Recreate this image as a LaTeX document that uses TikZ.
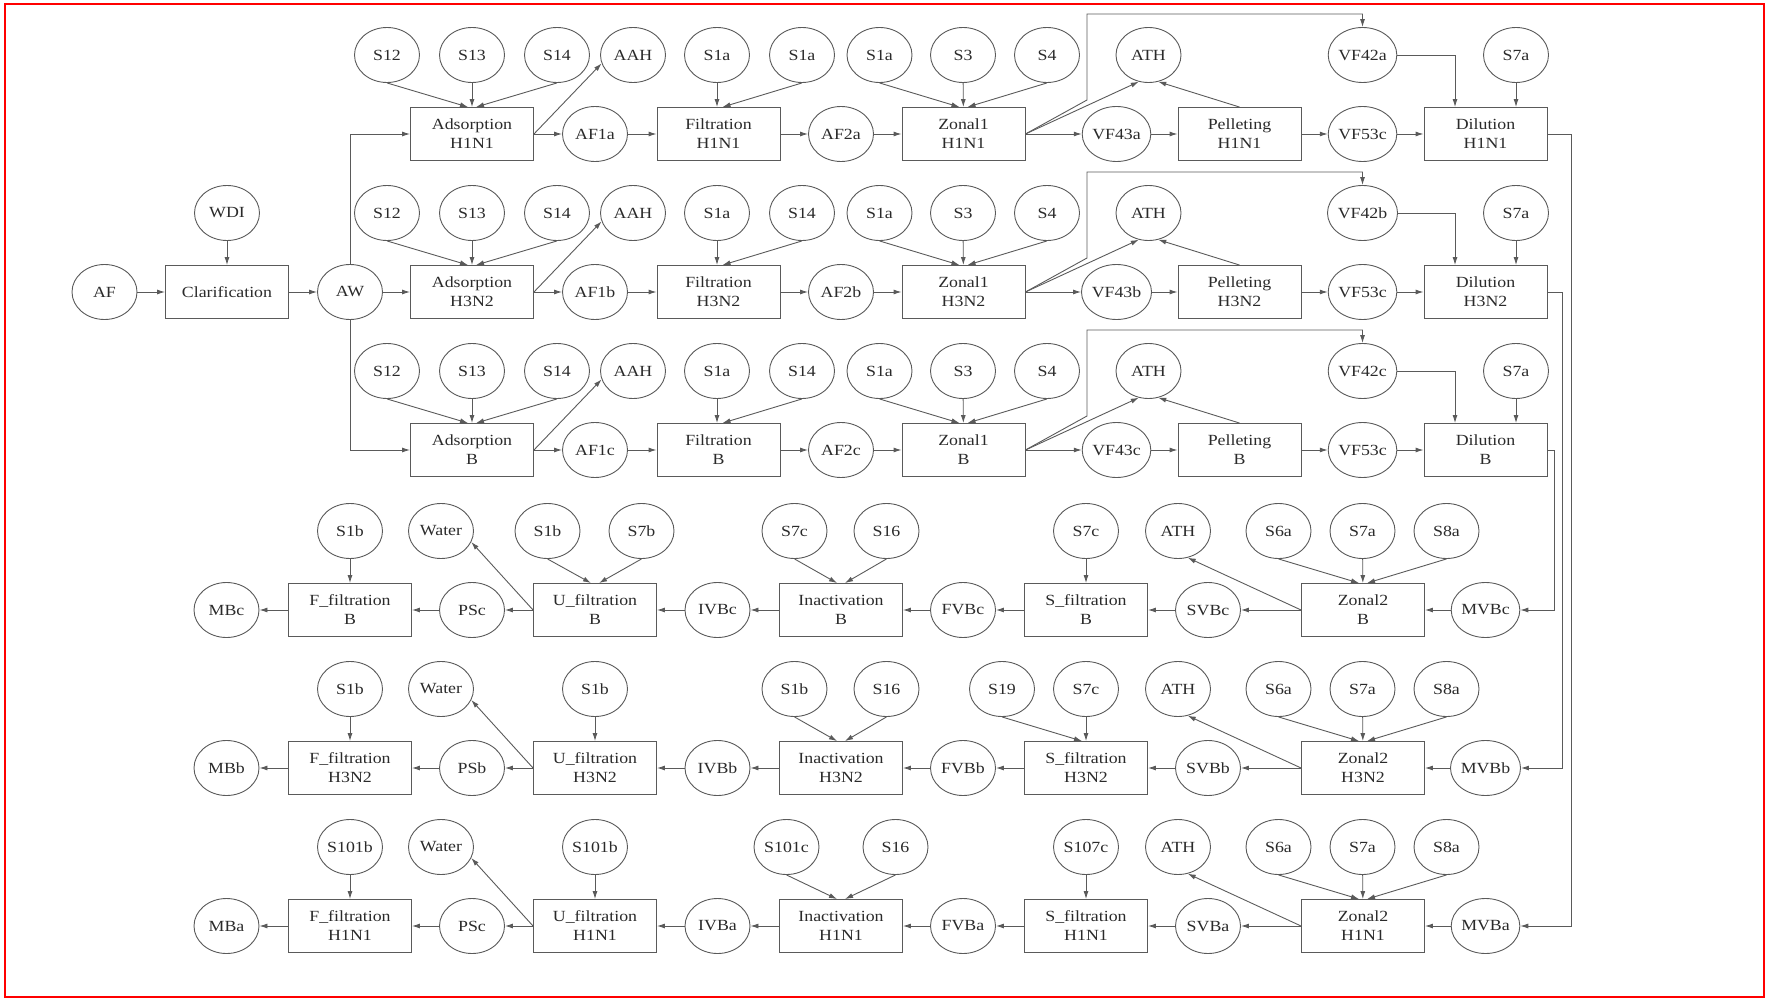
\documentclass[tikz,border=0pt]{standalone}
\usepackage{fontspec}
\setmainfont{Liberation Serif}[FakeStretch=1.15]
\usetikzlibrary{shapes.geometric,arrows.meta}
\definecolor{ln}{HTML}{5A5A5A}
\definecolor{tx}{HTML}{2A2A2A}
\tikzset{
 circ/.style={ellipse, draw=ln, line width=0.9pt, minimum width=65pt, minimum height=55pt, inner sep=0pt, text=tx, font=\fontsize{15.5}{18}\selectfont},
 proc/.style={rectangle, draw=ln, line width=0.9pt, minimum width=123pt, minimum height=53pt, inner sep=0pt, align=center, text=tx, font=\fontsize{15.5}{19}\selectfont},
 arr/.style={draw=ln, line width=0.9pt, -{Latex[length=8pt,width=5pt]}},
}
% top group: #1 id, #2 y, #3 strain, #4 AF1, #5 AF2, #6 VF43, #7 VF42, #8 second filtration supply
\newcommand\topgroup[8]{%
\node[circ] (s12#1) at (387,{#2-79}) {S12};
\node[circ] (s13#1) at (472,{#2-79}) {S13};
\node[circ] (s14#1) at (557,{#2-79}) {S14};
\node[circ] (aah#1) at (633,{#2-79}) {AAH};
\node[proc] (ads#1) at (472,#2) {Adsorption\\#3};
\node[circ] (af1#1) at (595,#2) {#4};
\node[circ] (fa#1) at (717,{#2-79}) {S1a};
\node[circ] (fb#1) at (802,{#2-79}) {#8};
\node[proc] (fil#1) at (718.5,#2) {Filtration\\#3};
\node[circ] (af2#1) at (841,#2) {#5};
\node[proc] (zon#1) at (963.5,#2) {Zonal1\\#3};
\node[circ] (za#1) at (879.5,{#2-79}) {S1a};
\node[circ] (zb#1) at (963,{#2-79}) {S3};
\node[circ] (zc#1) at (1047,{#2-79}) {S4};
\node[circ] (ath#1) at (1148.5,{#2-79}) {ATH};
\node[circ] (vfa#1) at (1116.5,#2) {#6};
\node[proc] (pel#1) at (1239.5,#2) {Pelleting\\#3};
\node[circ] (vfc#1) at (1362.5,#2) {VF53c};
\node[circ] (vfb#1) at (1362.5,{#2-79}) {#7};
\node[proc] (dil#1) at (1485.5,#2) {Dilution\\#3};
\node[circ] (s7#1) at (1516,{#2-79}) {S7a};
\draw[arr] (s12#1.south) -- ([xshift=-4pt]ads#1.north);
\draw[arr] (s13#1) -- (ads#1);
\draw[arr] (s14#1.south) -- ([xshift=4pt]ads#1.north);
\draw[arr] (ads#1.east) -- (aah#1.195);
\draw[arr] (ads#1) -- (af1#1);
\draw[arr] (af1#1) -- (fil#1);
\draw[arr] (fa#1) -- (fa#1 |- fil#1.north);
\draw[arr] (fb#1.south) -- ([xshift=4pt]fil#1.north);
\draw[arr] (fil#1) -- (af2#1);
\draw[arr] (af2#1) -- (zon#1);
\draw[arr] (za#1.south) -- ([xshift=-4pt]zon#1.north);
\draw[arr] (zb#1) -- (zon#1);
\draw[arr] (zc#1.south) -- ([xshift=4pt]zon#1.north);
\draw[arr] (zon#1) -- (vfa#1);
\draw[arr] (zon#1.east) -- (ath#1.250);
\draw[arr] (pel#1.north) -- (ath#1.290);
\draw[arr] (zon#1.east) -- (1087,{#2-34}) -- (1087,{#2-120}) -- (1362.5,{#2-120}) -- (vfb#1.north);
\draw[arr] (vfa#1) -- (pel#1);
\draw[arr] (pel#1) -- (vfc#1);
\draw[arr] (vfc#1) -- (dil#1);
\draw[arr] (vfb#1.east) -| ([xshift=-30.5pt]dil#1.north);
\draw[arr] (s7#1) -- (s7#1 |- dil#1.north);
}
% bottom group: #1 id, #2 y, #3 strain, #4 MB, #5 PS, #6 IVB, #7 FVB, #8 SVB, #9 MVB
\newcommand\botgroup[9]{%
\node[circ] (mb#1) at (226.5,#2) {#4};
\node[proc] (ff#1) at (350,#2) {F\_filtration\\#3};
\node[circ] (wat#1) at (441,{#2-79}) {Water};
\node[circ] (ps#1) at (472,#2) {#5};
\node[proc] (uf#1) at (595,#2) {U\_filtration\\#3};
\node[circ] (ivb#1) at (717.5,#2) {#6};
\node[proc] (ina#1) at (841,#2) {Inactivation\\#3};
\node[circ] (fvb#1) at (963,#2) {#7};
\node[proc] (sf#1) at (1086,#2) {S\_filtration\\#3};
\node[circ] (ath#1) at (1178,{#2-79}) {ATH};
\node[circ] (svb#1) at (1208,#2) {#8};
\node[proc] (zt#1) at (1363,#2) {Zonal2\\#3};
\node[circ] (s6#1) at (1278.5,{#2-79}) {S6a};
\node[circ] (s7#1) at (1362.5,{#2-79}) {S7a};
\node[circ] (s8#1) at (1446.5,{#2-79}) {S8a};
\node[circ] (mvb#1) at (1485.5,#2) {#9};
\draw[arr] (mvb#1) -- (zt#1);
\draw[arr] (zt#1) -- (svb#1);
\draw[arr] (zt#1.west) -- (ath#1.290);
\draw[arr] (svb#1) -- (sf#1);
\draw[arr] (sf#1) -- (fvb#1);
\draw[arr] (fvb#1) -- (ina#1);
\draw[arr] (ina#1) -- (ivb#1);
\draw[arr] (ivb#1) -- (uf#1);
\draw[arr] (uf#1) -- (ps#1);
\draw[arr] (uf#1.west) -- (wat#1.340);
\draw[arr] (ps#1) -- (ff#1);
\draw[arr] (ff#1) -- (mb#1);
\draw[arr] (s6#1.south) -- ([xshift=-4pt]zt#1.north);
\draw[arr] (s7#1) -- (zt#1);
\draw[arr] (s8#1.south) -- ([xshift=4pt]zt#1.north);
}
\begin{document}
\begin{tikzpicture}[x=1pt,y=-1pt]
\useasboundingbox (0,0) rectangle (1769,1000);
\draw[red, line width=2pt] (5,4) rectangle (1764,997);

\topgroup{A}{134}{H1N1}{AF1a}{AF2a}{VF43a}{VF42a}{S1a}
\topgroup{B}{292}{H3N2}{AF1b}{AF2b}{VF43b}{VF42b}{S14}
\topgroup{C}{450}{B}{AF1c}{AF2c}{VF43c}{VF42c}{S14}

\node[circ] (af) at (104.5,292) {AF};
\node[proc] (clar) at (227,292) {Clarification};
\node[circ] (wdi) at (227,213) {WDI};
\node[circ] (aw) at (350,292) {AW};
\draw[arr] (af) -- (clar);
\draw[arr] (wdi) -- (clar);
\draw[arr] (clar) -- (aw);
\draw[arr] (aw) -- (adsB);
\draw[arr] (aw.north) |- (adsA.west);
\draw[arr] (aw.south) |- (adsC.west);

\botgroup{D}{610}{B}{MBc}{PSc}{IVBc}{FVBc}{SVBc}{MVBc}
\botgroup{E}{768}{H3N2}{MBb}{PSb}{IVBb}{FVBb}{SVBb}{MVBb}
\botgroup{F}{926}{H1N1}{MBa}{PSc}{IVBa}{FVBa}{SVBa}{MVBa}

% group D supplies
\node[circ] (ffsD) at (350,531) {S1b};
\node[circ] (ufaD) at (547.5,531) {S1b};
\node[circ] (ufbD) at (641.5,531) {S7b};
\node[circ] (inaaD) at (794.5,531) {S7c};
\node[circ] (inabD) at (886.5,531) {S16};
\node[circ] (sfaD) at (1086,531) {S7c};
\draw[arr] (ffsD) -- (ffD);
\draw[arr] (ufaD.south) -- ([xshift=-4pt]ufD.north);
\draw[arr] (ufbD.south) -- ([xshift=4pt]ufD.north);
\draw[arr] (inaaD.south) -- ([xshift=-4pt]inaD.north);
\draw[arr] (inabD.south) -- ([xshift=4pt]inaD.north);
\draw[arr] (sfaD) -- (sfD);

% group E supplies
\node[circ] (ffsE) at (350,689) {S1b};
\node[circ] (ufaE) at (595,689) {S1b};
\node[circ] (inaaE) at (794.5,689) {S1b};
\node[circ] (inabE) at (886.5,689) {S16};
\node[circ] (sfbE) at (1002,689) {S19};
\node[circ] (sfaE) at (1086,689) {S7c};
\draw[arr] (ffsE) -- (ffE);
\draw[arr] (ufaE) -- (ufE);
\draw[arr] (inaaE.south) -- ([xshift=-4pt]inaE.north);
\draw[arr] (inabE.south) -- ([xshift=4pt]inaE.north);
\draw[arr] (sfbE.south) -- ([xshift=-4pt]sfE.north);
\draw[arr] (sfaE) -- (sfE);

% group F supplies
\node[circ] (ffsF) at (350,847) {S101b};
\node[circ] (ufaF) at (595,847) {S101b};
\node[circ] (inaaF) at (786.5,847) {S101c};
\node[circ] (inabF) at (895.5,847) {S16};
\node[circ] (sfaF) at (1086,847) {S107c};
\draw[arr] (ffsF) -- (ffF);
\draw[arr] (ufaF) -- (ufF);
\draw[arr] (inaaF.south) -- ([xshift=-4pt]inaF.north);
\draw[arr] (inabF.south) -- ([xshift=4pt]inaF.north);
\draw[arr] (sfaF) -- (sfF);

% dilution to MVB
\draw[arr] (dilA.east) -- (1571,134) |- (mvbF.east);
\draw[arr] (dilB.east) -- (1562,292) |- (mvbE.east);
\draw[arr] (dilC.east) -- (1554,450) |- (mvbD.east);
\end{tikzpicture}
\end{document}
